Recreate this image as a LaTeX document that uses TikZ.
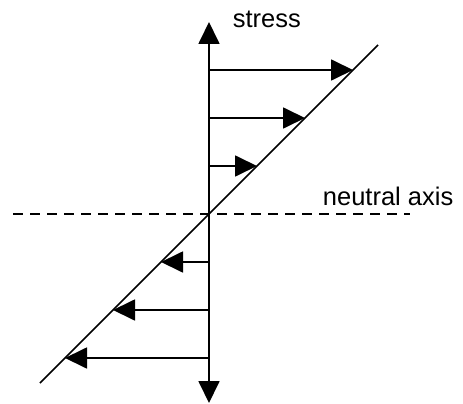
\documentclass[tikz,border=0pt]{standalone}
\usepackage{fontspec}
\setmainfont{Liberation Sans}
\usetikzlibrary{arrows.meta}
\tikzset{
  stressarrow/.style={-{Triangle[length=22pt,width=21pt]}, line width=1.8pt},
  label/.style={font=\fontsize{25.5}{29}\selectfont, inner sep=0pt, anchor=base west}
}

\begin{document}
\begin{tikzpicture}[x=1pt, y=-1pt, line width=1.8pt]
  \useasboundingbox (0,0) rectangle (463,404);

  \coordinate (top) at (209,22);
  \coordinate (bottom) at (209,403);
  \coordinate (center) at (209,214);
  \coordinate (lineA) at (40,383);
  \coordinate (lineB) at (378,45);
  \coordinate (naL) at (13,214);
  \coordinate (naR) at (410,214);

  % neutral axis and stress line
  \draw[dash pattern=on 10pt off 7pt, line width=1.4pt] (naL) -- (naR);
  \draw[line width=1.5pt] (lineA) -- (lineB);

  % vertical axis
  \draw[stressarrow] (center) -- (top);
  \draw[stressarrow] (center) -- (bottom);

  % stress arrows
  \foreach \y in {70,118,166,262,310,358} {
    \coordinate (s\y) at (209,\y);
    \coordinate (t\y) at ({423-\y},\y);
    \draw[stressarrow] (s\y) -- (t\y);
  }

  \node[label] (stress) at (232,28) {stress};
  \node[label] (neutral) at (322,205) {neutral axis};
\end{tikzpicture}
\end{document}
